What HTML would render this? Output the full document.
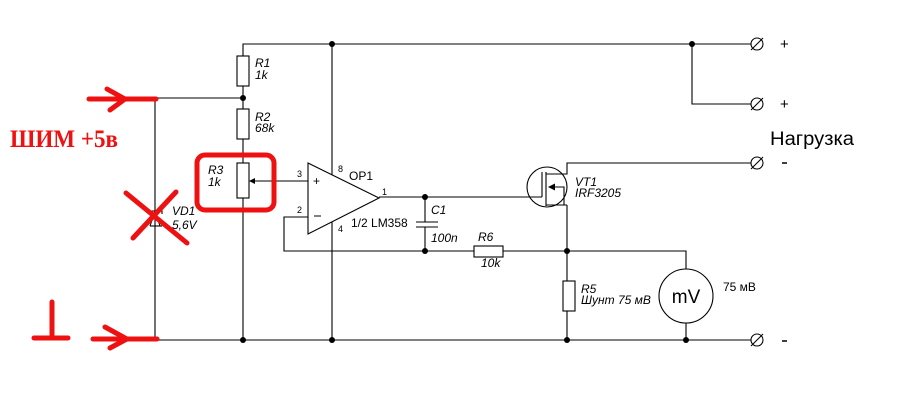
<!DOCTYPE html>
<html><head><meta charset="utf-8"><style>
html,body{margin:0;padding:0;background:#fff;}
svg{display:block;}
text{font-family:"Liberation Sans",Arial,sans-serif;fill:#000;}
.i{font-style:italic;font-size:12px;}
</style></head><body>
<svg width="917" height="407" viewBox="0 0 917 407" xmlns="http://www.w3.org/2000/svg">
<rect width="917" height="407" fill="#fff"/>
<g stroke="#000" stroke-width="1.1" fill="none">
<polyline points="243,56 243,44 751,44"/>
<polyline points="692,44 692,104 751,104"/>
<line x1="243" y1="86" x2="243" y2="109"/>
<line x1="243" y1="139" x2="243" y2="163"/>
<line x1="243" y1="198" x2="243" y2="340"/>
<rect x="237" y="56" width="12" height="30"/>
<rect x="237" y="109" width="12" height="30"/>
<rect x="237" y="163" width="12" height="35"/>
<line x1="155" y1="98" x2="243" y2="98"/>
<line x1="155" y1="98" x2="155" y2="340"/>
<polyline points="150,211 162,211 162,214"/>
<line x1="150" y1="226" x2="162" y2="226"/>
<polyline points="150,226 155,211 160,226"/>
<line x1="155" y1="340" x2="751" y2="340"/>
<line x1="254" y1="181" x2="308" y2="181"/>
<polygon points="308,163 379,198 308,234"/>
<line x1="332" y1="44" x2="332" y2="175"/>
<line x1="332" y1="222" x2="332" y2="340"/>
<polyline points="308,217 284,217 284,251 474,251"/>
<line x1="379" y1="197" x2="542" y2="197"/>
<line x1="425" y1="197" x2="425" y2="222"/>
<line x1="425" y1="227" x2="425" y2="251"/>
<line x1="416" y1="222" x2="438" y2="222"/>
<line x1="416" y1="227" x2="438" y2="227"/>
<rect x="474" y="246" width="29" height="11"/>
<polyline points="503,251 686,251 686,269"/>
<line x1="686" y1="323" x2="686" y2="340"/>
<circle cx="686" cy="296" r="27"/>
<circle cx="547" cy="187" r="20"/>
<line x1="542" y1="172" x2="542" y2="197"/>
<line x1="546" y1="172" x2="546" y2="206"/>
<polyline points="546,174 567,174 567,163 751,163"/>
<polyline points="546,205 567,205"/>
<polyline points="552,187 564,187 564,205"/>
<line x1="567" y1="205" x2="567" y2="340"/>
<rect x="563" y="281" width="12" height="30" fill="#fff"/>
<circle cx="757" cy="44" r="6"/>
<circle cx="757" cy="104" r="6"/>
<circle cx="757" cy="163" r="6"/>
<circle cx="757" cy="340" r="6"/>
<line x1="751" y1="50" x2="763" y2="38"/>
<line x1="751" y1="110" x2="763" y2="98"/>
<line x1="751" y1="169" x2="763" y2="157"/>
<line x1="751" y1="346" x2="763" y2="334"/>
</g>
<polygon points="249,181 255,178 255,184" fill="#000"/>
<polygon points="548,187 555,183.5 555,190.5" fill="#000"/>
<g fill="#000">
<circle cx="243" cy="98" r="3"/>
<circle cx="332" cy="44" r="3"/>
<circle cx="692" cy="44" r="3"/>
<circle cx="425" cy="197" r="3"/>
<circle cx="425" cy="251" r="3"/>
<circle cx="567" cy="251" r="3"/>
<circle cx="243" cy="340" r="3"/>
<circle cx="332" cy="340" r="3"/>
<circle cx="567" cy="340" r="3"/>
<circle cx="686" cy="340" r="3"/>
</g>
<text class="i" x="255" y="67">R1</text>
<text class="i" x="255" y="79">1k</text>
<text class="i" x="255" y="121">R2</text>
<text class="i" x="255" y="132">68k</text>
<text class="i" x="208" y="174">R3</text>
<text class="i" x="208" y="186">1k</text>
<text class="i" x="172" y="215">VD1</text>
<text class="i" x="172" y="229">5,6V</text>
<text class="i" x="431" y="214">C1</text>
<text class="i" x="431" y="242">100n</text>
<text class="i" x="478" y="241">R6</text>
<text class="i" x="481" y="267">10k</text>
<text class="i" x="581" y="293">R5</text>
<text class="i" x="581" y="304">Шунт 75 мВ</text>
<text class="i" x="575" y="186">VT1</text>
<text class="i" x="575" y="197">IRF3205</text>
<text x="349" y="180" font-size="12">OP1</text>
<text x="351" y="227" font-size="12">1/2 LM358</text>
<text x="338" y="172" font-size="9">8</text>
<text x="382" y="195" font-size="9">1</text>
<text x="297" y="177" font-size="9">3</text>
<text x="297" y="213" font-size="9">2</text>
<text x="338" y="232" font-size="9">4</text>
<text x="313" y="185" font-size="12">+</text>
<line x1="314" y1="216" x2="321" y2="216" stroke="#000" stroke-width="1"/>
<text x="723" y="291" font-size="12">75 мВ</text>
<text x="686" y="303" font-size="19" text-anchor="middle">mV</text>
<text x="770" y="145" font-size="19" textLength="84" lengthAdjust="spacingAndGlyphs">Нагрузка</text>
<text x="780" y="49" font-size="15">+</text>
<text x="780" y="109" font-size="15">+</text>
<line x1="782" y1="163" x2="787" y2="163" stroke="#000" stroke-width="1.5"/>
<line x1="782" y1="341" x2="787" y2="341" stroke="#000" stroke-width="1.5"/>
<g stroke="#ee1111" stroke-width="5" stroke-linecap="round" stroke-linejoin="round" fill="none">
<line x1="89" y1="99" x2="156" y2="99"/>
<polyline points="107,89 125,99 110,110"/>
<line x1="93" y1="339" x2="157" y2="339"/>
<polyline points="105,327 127,339 110,348"/>
<line x1="52" y1="302" x2="52" y2="338"/>
<line x1="34" y1="338" x2="68" y2="338"/>
<rect x="197" y="155" width="77" height="55" rx="8"/>
<line x1="126" y1="193" x2="187" y2="243"/>
<line x1="176" y1="192" x2="133" y2="238"/>
</g>
<text x="10" y="147" font-weight="bold" font-size="25" style="fill:#ee1111;font-family:'Liberation Serif',serif" textLength="108" lengthAdjust="spacingAndGlyphs">ШИМ +5в</text>
</svg>
</body></html>
